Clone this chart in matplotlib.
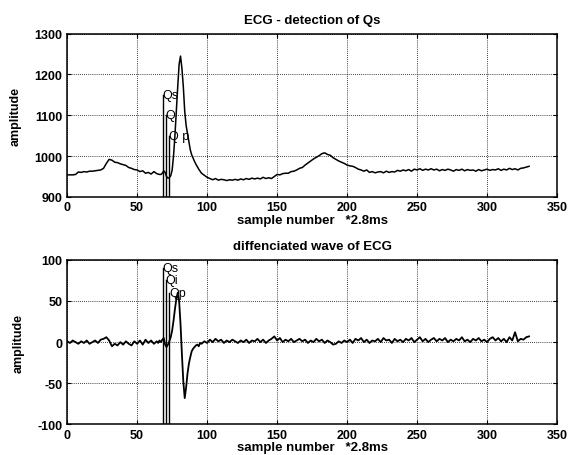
import numpy as np
import matplotlib
matplotlib.use("Agg")
import matplotlib.pyplot as plt

plt.rcParams["font.family"] = ["Liberation Sans", "DejaVu Sans"]
plt.rcParams["font.size"] = 9
plt.rcParams["axes.unicode_minus"] = False

# sample numbers: every 2nd sample, every sample around the QRS complex
sample_idx = np.concatenate([np.arange(0, 65, 2), np.arange(65, 96), np.arange(96, 331, 2)])

ecg_amp = [
    954, 954, 954, 955, 961, 960, 962, 961, 963, 963,
    964, 965, 966, 970, 982, 992, 990, 985, 984, 981,
    979, 977, 972, 970, 967, 966, 962, 964, 958, 960,
    956, 962, 957,
    # 65..95
    956, 955, 955, 958, 964, 960, 950, 946, 947, 952,
    965, 1000, 1050, 1110, 1170, 1225, 1245, 1215, 1170, 1110,
    1075, 1055, 1035, 1015, 1003, 995, 987, 980, 974, 968,
    963,
    # 96..330
    958, 953, 948, 945, 942, 945, 941, 943, 942, 940,
    942, 941, 943, 941, 944, 942, 945, 943, 946, 944,
    946, 944, 948, 945, 947, 945, 950, 955, 954, 957,
    958, 958, 962, 963, 966, 970, 972, 978, 983, 988,
    993, 997, 1001, 1006, 1008, 1004, 1002, 996, 992, 988,
    985, 982, 978, 976, 975, 972, 968, 966, 963, 966,
    960, 962, 959, 961, 962, 959, 963, 960, 962, 961,
    965, 963, 966, 964, 967, 963, 968, 966, 969, 965,
    968, 966, 969, 966, 968, 964, 967, 965, 968, 966,
    963, 967, 965, 968, 964, 967, 965, 966, 963, 967,
    964, 966, 968, 965, 967, 966, 969, 965, 968, 966,
    970, 967, 969, 966, 970, 971, 973, 975,
]

diff_amp = [
    1, -1, 2, 0, -2, 1, -1, 2, -2, 0,
    2, -1, 3, 4, 6, 2, -5, -2, -4, 0,
    -3, 1, -2, -4, 1, -2, 2, -3, 3, -1,
    2, -2, 1,
    # 65..95
    -1, 2, 0, 3, 5, -3, -6, -3, 1, 6,
    14, 26, 40, 52, 60, 50, 22, -15, -48, -68,
    -55, -38, -26, -18, -11, -8, -6, -4, -3, -5,
    -1,
    # 96..330
    -2, 1, -1, 3, 0, 4, 1, 3, -1, 2,
    0, 3, 1, -1, 2, 0, 3, -1, 2, 1,
    4, 0, 3, -1, 2, 4, 7, 2, 5, 0,
    3, 1, 4, 0, 2, 4, 1, 3, -1, 2,
    0, 4, 1, 3, -1, 2, 0, -3, -2, 1,
    -1, 2, 0, 3, -1, 4, 2, 5, 0, 3,
    -1, 2, 1, 4, 0, 5, 2, 3, -1, 4,
    1, 3, 0, 4, 2, 5, 0, 3, 6, 1,
    4, 0, 3, 5, 1, 4, 2, 5, 0, 3,
    1, 4, 2, 6, 1, 3, 0, 4, 2, 5,
    1, 3, 0, 4, 6, 2, 5, 1, 4, 0,
    6, 2, 12, 1, 4, 3, 6, 7,
]

marker_names = ["Qs", "Qi", "Qp"]
marker_pos = [68.3, 70.5, 72.8]
ecg_marker_amp = [1150, 1100, 1050]
diff_marker_amp = [90, 75, 60]
ecg_marker_text = ["Qs", "Q", "Q p"]


def style_axes(ax, ylim, yticks):
    ax.set_xlim(0, 350)
    ax.set_ylim(*ylim)
    ax.set_xticks(range(0, 351, 50))
    ax.set_yticks(yticks)
    ax.grid(True, color="black", linestyle=(0, (1, 1.5)), linewidth=0.6)
    ax.tick_params(direction="in", length=3, top=True, right=True, labelsize=9)
    ax.tick_params(axis="x", pad=3)
    for lab in ax.get_xticklabels() + ax.get_yticklabels():
        lab.set_fontweight("bold")
    for sp in ax.spines.values():
        sp.set_linewidth(1.1)
    ax.set_ylabel("amplitude", fontsize=9, fontweight="bold", labelpad=9)
    ax.set_xlabel("sample number   *2.8ms", fontsize=9.5, fontweight="bold", labelpad=0.5)


fig = plt.figure(figsize=(5.69, 4.56), dpi=100)
ax1 = fig.add_axes([0.118, 0.566, 0.861, 0.358])
ax2 = fig.add_axes([0.118, 0.067, 0.861, 0.361])

ax1.plot(sample_idx, ecg_amp, color="black", linewidth=1.1)
style_axes(ax1, (900, 1300), range(900, 1301, 100))
ax1.set_title("ECG - detection of Qs", fontsize=9.5, fontweight="bold", pad=8)
for x, h, txt in zip(marker_pos, ecg_marker_amp, ecg_marker_text):
    ax1.plot([x, x], [900, h], color="black", linewidth=1.0)
    ax1.text(x, h, txt, ha="left", va="center", fontsize=9)

ax2.plot(sample_idx, diff_amp, color="black", linewidth=1.3)
style_axes(ax2, (-100, 100), range(-100, 101, 50))
ax2.set_title("diffenciated wave of ECG", fontsize=9.5, fontweight="bold", pad=8)
for x, h, txt in zip(marker_pos, diff_marker_amp, marker_names):
    ax2.plot([x, x], [-100, h], color="black", linewidth=1.0)
    ax2.text(x, h, txt, ha="left", va="center", fontsize=9)

fig.savefig("out.png", dpi=100)
